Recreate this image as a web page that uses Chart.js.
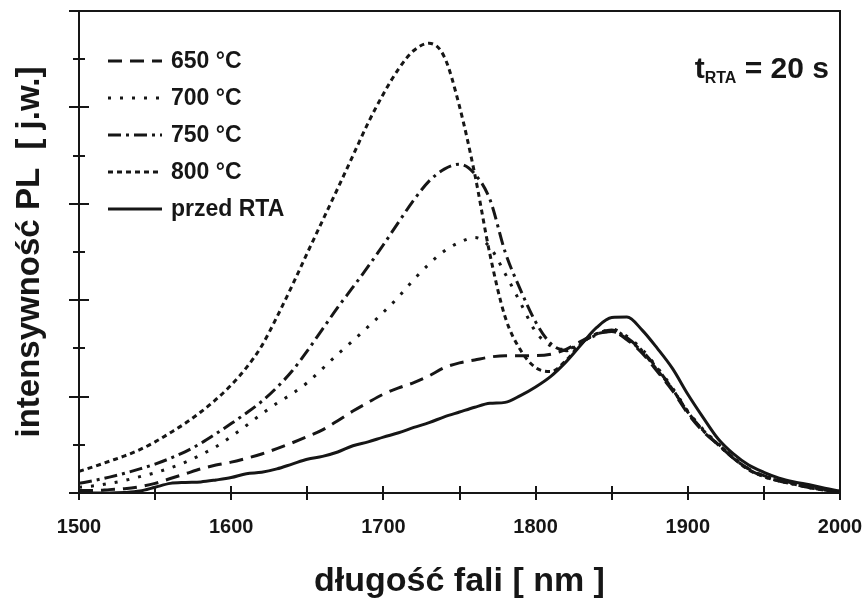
<!DOCTYPE html>
<html>
<head>
<meta charset="utf-8">
<script src="https://cdn.jsdelivr.net/npm/chart.js@4.4.1/dist/chart.umd.min.js"></script>
<style>
  html, body { margin: 0; padding: 0; background: #fff; }
  #wrap { width: 862px; height: 602px; position: relative; }
</style>
</head>
<body>
<div id="wrap"><canvas id="plChart"></canvas></div>
<script>
// wavelength grid [nm]
const wavelengths = [
  1500, 1510, 1520, 1530, 1540, 1550, 1560, 1570, 1580, 1590,
  1600, 1610, 1620, 1630, 1640, 1650, 1660, 1670, 1680, 1690,
  1700, 1710, 1720, 1730, 1740, 1750, 1760, 1770, 1780, 1790,
  1800, 1810, 1820, 1830, 1840, 1850, 1860, 1870, 1880, 1890,
  1900, 1910, 1920, 1930, 1940, 1950, 1960, 1970, 1980, 1990, 2000
];

// PL intensity [a.u.] for each anneal temperature
const pl650 = [
  0.05, 0.05, 0.07, 0.09, 0.13, 0.20, 0.30, 0.40, 0.50, 0.58,
  0.64, 0.72, 0.81, 0.92, 1.04, 1.17, 1.31, 1.50, 1.70, 1.88,
  2.05, 2.18, 2.29, 2.43, 2.60, 2.70, 2.76, 2.82, 2.85, 2.85,
  2.85, 2.88, 2.98, 3.15, 3.30, 3.35, 3.18, 2.90, 2.52, 2.12,
  1.65, 1.28, 1.00, 0.72, 0.50, 0.36, 0.27, 0.20, 0.13, 0.07, 0.02
];
const pl700 = [
  0.12, 0.15, 0.20, 0.26, 0.34, 0.42, 0.52, 0.64, 0.79, 0.96,
  1.17, 1.40, 1.64, 1.86, 2.06, 2.29, 2.58, 2.88, 3.16, 3.45,
  3.75, 4.07, 4.43, 4.75, 5.02, 5.20, 5.30, 5.10, 4.55, 3.95,
  3.35, 3.05, 2.98, 3.12, 3.28, 3.40, 3.25, 2.98, 2.60, 2.18,
  1.70, 1.32, 1.02, 0.74, 0.50, 0.35, 0.26, 0.19, 0.12, 0.07, 0.03
];
const pl750 = [
  0.20, 0.26, 0.33, 0.41, 0.50, 0.60, 0.72, 0.86, 1.03, 1.23,
  1.44, 1.66, 1.90, 2.19, 2.53, 2.95, 3.40, 3.85, 4.27, 4.70,
  5.15, 5.62, 6.08, 6.47, 6.72, 6.82, 6.62, 6.09, 5.00, 4.22,
  3.55, 3.10, 2.95, 3.12, 3.30, 3.38, 3.22, 2.95, 2.58, 2.15,
  1.68, 1.30, 1.00, 0.72, 0.49, 0.34, 0.25, 0.18, 0.11, 0.06, 0.02
];
const pl800 = [
  0.45, 0.55, 0.66, 0.77, 0.90, 1.06, 1.25, 1.45, 1.68, 1.94,
  2.24, 2.60, 3.05, 3.65, 4.30, 4.98, 5.65, 6.32, 7.00, 7.68,
  8.28, 8.80, 9.18, 9.33, 9.05, 8.02, 6.62, 4.95, 3.65, 2.97,
  2.60, 2.52, 2.75, 3.10, 3.30, 3.35, 3.20, 2.93, 2.55, 2.15,
  1.68, 1.30, 1.01, 0.73, 0.48, 0.34, 0.25, 0.18, 0.11, 0.06, 0.02
];
const plBefore = [
  0.00, 0.00, 0.00, 0.01, 0.04, 0.12, 0.20, 0.22, 0.23, 0.27,
  0.32, 0.40, 0.43, 0.50, 0.60, 0.70, 0.76, 0.85, 0.98, 1.06,
  1.16, 1.25, 1.36, 1.46, 1.58, 1.68, 1.78, 1.86, 1.88, 2.02,
  2.20, 2.42, 2.72, 3.08, 3.43, 3.64, 3.65, 3.38, 3.00, 2.58,
  2.05, 1.57, 1.12, 0.81, 0.58, 0.43, 0.31, 0.23, 0.17, 0.10, 0.04
];

const seriesLabels = ["650 °C", "700 °C", "750 °C", "800 °C", "przed RTA"];
const xTickValues = [1500, 1550, 1600, 1650, 1700, 1750, 1800, 1850, 1900, 1950, 2000];
const yTickValues = [0, 1, 2, 3, 4, 5, 6, 7, 8, 9, 10];

const ink = "#161616";
const fontFamily = "'Liberation Sans', Arial, sans-serif";
Chart.defaults.font.family = fontFamily;
Chart.defaults.color = ink;

const dashes = [[14, 8], [3, 9], [13, 5, 3, 5], [5, 4], []];

function makeSet(label, values, dash) {
    return {
        label: label,
        data: values.map((v, i) => ({ x: wavelengths[i], y: v })),
        borderColor: ink,
        borderWidth: 3,
        borderDash: dash,
        pointRadius: 0,
        fill: false,
        cubicInterpolationMode: "monotone"
    };
}

// frame, ticks on both sides of the axes, legend and the t_RTA note
const decorPlugin = {
    id: "decor",
    afterDraw(chart) {
        const { ctx, chartArea: a, scales } = chart;
        const x = scales.x, y = scales.y;
        ctx.save();
        ctx.strokeStyle = ink;
        ctx.lineWidth = 2;
        ctx.setLineDash([]);
        ctx.strokeRect(a.left, a.top, a.right - a.left, a.bottom - a.top);

        ctx.beginPath();
        xTickValues.forEach(v => {
            const px = Math.round(x.getPixelForValue(v));
            ctx.moveTo(px, a.bottom - 7);
            ctx.lineTo(px, a.bottom + 7);
        });
        yTickValues.forEach(v => {
            const py = Math.round(y.getPixelForValue(v));
            const len = v % 2 === 0 ? 10 : 6;
            ctx.moveTo(a.left - len, py);
            ctx.lineTo(a.left + len, py);
        });
        ctx.stroke();

        // legend
        ctx.font = "bold 23px " + fontFamily;
        ctx.fillStyle = ink;
        ctx.textBaseline = "middle";
        chart.data.datasets.forEach((ds, i) => {
            const ly = 61 + i * 37;
            ctx.lineWidth = 3;
            ctx.setLineDash(ds.borderDash);
            ctx.beginPath();
            ctx.moveTo(108, ly);
            ctx.lineTo(162, ly);
            ctx.stroke();
            ctx.fillText(ds.label, 171, ly + 1);
        });
        ctx.setLineDash([]);

        // t_RTA = 20 s
        const big = "bold 30px " + fontFamily;
        const small = "bold 16px " + fontFamily;
        ctx.textBaseline = "alphabetic";
        ctx.font = big;
        const tail = " = 20 s";
        const wTail = ctx.measureText(tail).width;
        const wT = ctx.measureText("t").width;
        ctx.font = small;
        const wSub = ctx.measureText("RTA").width;
        let tx = 829 - wTail - wSub - wT;
        ctx.font = big;
        ctx.fillText("t", tx, 78);
        ctx.font = small;
        ctx.fillText("RTA", tx + wT, 83);
        ctx.font = big;
        ctx.fillText(tail, tx + wT + wSub, 78);
        ctx.restore();
    }
};

new Chart(document.getElementById("plChart").getContext("2d"), {
    type: "line",
    data: {
        datasets: [
            makeSet(seriesLabels[0], pl650, dashes[0]),
            makeSet(seriesLabels[1], pl700, dashes[1]),
            makeSet(seriesLabels[2], pl750, dashes[2]),
            makeSet(seriesLabels[3], pl800, dashes[3]),
            makeSet(seriesLabels[4], plBefore, dashes[4])
        ]
    },
    options: {
        responsive: true,
        maintainAspectRatio: false,
        animation: false,
        layout: { padding: { top: 11, right: 22, left: 0, bottom: 0 } },
        plugins: {
            legend: { display: false },
            tooltip: { enabled: false }
        },
        scales: {
            x: {
                type: "linear",
                min: 1500,
                max: 2000,
                afterFit: (scale) => {
                    scale.height = 109;
                    scale.paddingLeft = 0;
                    scale.paddingRight = 0;
                },
                ticks: {
                    stepSize: 100,
                    padding: 22,
                    color: ink,
                    font: { size: 20, weight: "bold" },
                    callback: (value) => String(value)
                },
                grid: { display: false, drawTicks: false },
                border: { display: false },
                title: {
                    display: true,
                    text: "długość fali [ nm ]",
                    color: ink,
                    font: { size: 34, weight: "bold" },
                    padding: { top: 0, bottom: 0 }
                }
            },
            y: {
                min: 0,
                max: 10,
                afterFit: (scale) => { scale.width = 79; },
                ticks: { display: false, stepSize: 1 },
                grid: { display: false, drawTicks: false },
                border: { display: false },
                title: {
                    display: true,
                    text: "intensywność PL  [ j.w.]",
                    color: ink,
                    font: { size: 33, weight: "bold" },
                    padding: { top: 10, bottom: 0 }
                }
            }
        }
    },
    plugins: [decorPlugin]
});
</script>
</body>
</html>
